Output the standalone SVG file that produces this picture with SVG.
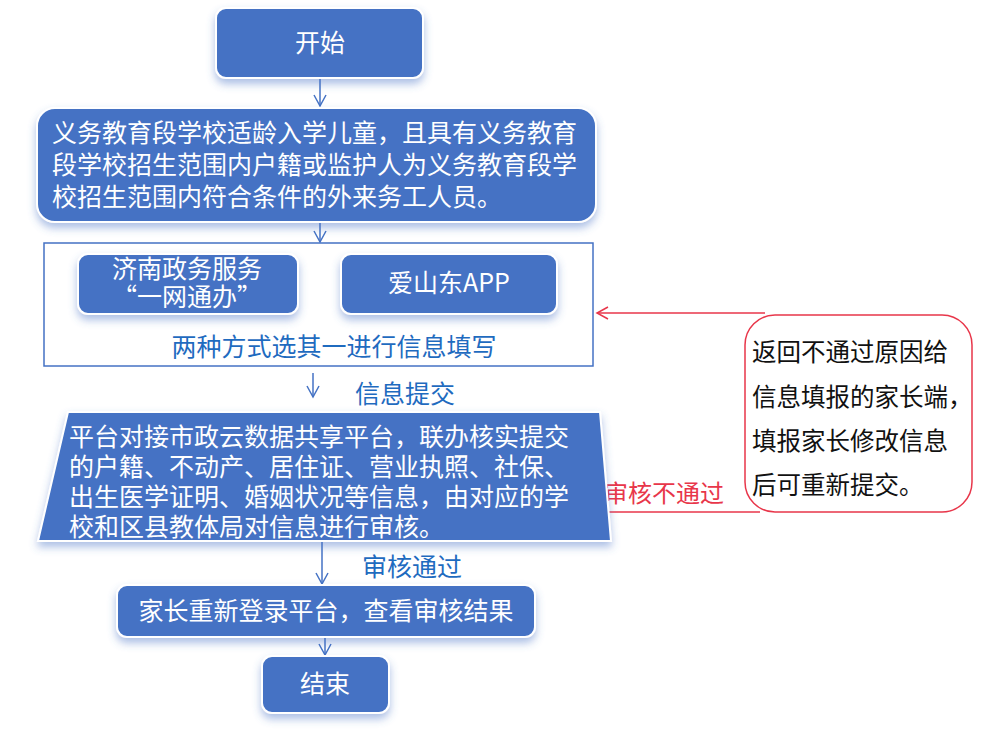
<svg xmlns="http://www.w3.org/2000/svg" width="1000" height="745" viewBox="0 0 1000 745">
<style>
text{font-family:"Noto Sans CJK SC","Microsoft YaHei",sans-serif;}
.node{fill:#4472C4;stroke:#ffffff;stroke-width:2;filter:url(#sh);}
.wt{fill:#ffffff;font-size:25px;}
.bt{fill:#1F6BBF;font-size:25px;}
.rt{fill:#E8364A;font-size:24px;}
.kt{fill:#111111;font-size:24.5px;}
.conn{stroke:#4472C4;stroke-width:1.5;fill:none;}
.red{stroke:#E8364A;stroke-width:1.5;fill:none;}
</style>
<defs>
<filter id="sh" x="-10%" y="-20%" width="120%" height="150%">
<feDropShadow dx="0" dy="5" stdDeviation="4" flood-color="#4472C4" flood-opacity="0.45"/>
</filter>
<marker id="ab" markerWidth="14" markerHeight="14" refX="12" refY="7" orient="auto" markerUnits="userSpaceOnUse">
<path d="M1,1 L12,7 L1,13" fill="none" stroke="#4472C4" stroke-width="1.5"/>
</marker>
<marker id="ar" markerWidth="14" markerHeight="14" refX="12" refY="7" orient="auto" markerUnits="userSpaceOnUse">
<path d="M1,1 L12,7 L1,13" fill="none" stroke="#E8364A" stroke-width="1.5"/>
</marker>
</defs>
<rect width="1000" height="745" fill="#ffffff"/>

<g id="connectors">
<line class="conn" x1="320" y1="79" x2="320" y2="106" marker-end="url(#ab)"/>
<line class="conn" x1="320" y1="223" x2="320" y2="242" marker-end="url(#ab)"/>
<line class="conn" x1="313" y1="373" x2="313" y2="397" marker-end="url(#ab)"/>
<line class="conn" x1="322" y1="542" x2="322" y2="584" marker-end="url(#ab)"/>
<line class="conn" x1="325" y1="638" x2="325" y2="655" marker-end="url(#ab)"/>
<path class="red" d="M600,512 L760,512"/>
<path class="red" d="M765,313 L597,313" marker-end="url(#ar)"/>
<text class="bt" x="355" y="403">信息提交</text>
<text class="bt" x="362" y="576">审核通过</text>
<text class="rt" x="604" y="502">审核不通过</text>
</g>

<g id="start">
<rect class="node" x="216" y="8" width="207" height="70" rx="10"/>
<text class="wt" x="320" y="52" text-anchor="middle" font-size="24">开始</text>
</g>

<g id="eligibility">
<rect class="node" x="37" y="108" width="559" height="114" rx="18"/>
<text class="wt" x="52" y="142">义务教育段学校适龄入学儿童，且具有义务教育</text>
<text class="wt" x="52" y="174">段学校招生范围内户籍或监护人为义务教育段学</text>
<text class="wt" x="52" y="206">校招生范围内符合条件的外来务工人员。</text>
</g>

<g id="channels">
<rect x="44" y="243" width="549" height="123" fill="#ffffff" stroke="#4472C4" stroke-width="1.5"/>
<text class="bt" x="334" y="356" text-anchor="middle">两种方式选其一进行信息填写</text>
</g>

<g id="jinan">
<rect class="node" x="78" y="254" width="220" height="60" rx="10"/>
<text class="wt" x="187" y="278" text-anchor="middle" font-size="23">济南政务服务</text>
<text class="wt" x="187" y="306" text-anchor="middle" font-size="23">“一网通办”</text>
</g>

<g id="aishandong">
<rect class="node" x="341" y="254" width="216" height="60" rx="10"/>
<text class="wt" x="449" y="292" text-anchor="middle" font-size="23">爱山东APP</text>
</g>

<g id="review">
<polygon class="node" points="68,412 600,412 611,541 38,541"/>
<text class="wt" x="69" y="446">平台对接市政云数据共享平台，联办核实提交</text>
<text class="wt" x="69" y="476">的户籍、不动产、居住证、营业执照、社保、</text>
<text class="wt" x="69" y="506">出生医学证明、婚姻状况等信息，由对应的学</text>
<text class="wt" x="69" y="536">校和区县教体局对信息进行审核。</text>
</g>

<g id="feedback">
<rect x="745" y="315" width="227" height="197" rx="30" fill="#ffffff" stroke="#E8364A" stroke-width="1.5"/>
<text class="kt" x="752" y="361">返回不通过原因给</text>
<text class="kt" x="752" y="406">信息填报的家长端，</text>
<text class="kt" x="752" y="450">填报家长修改信息</text>
<text class="kt" x="752" y="494">后可重新提交。</text>
</g>

<g id="result">
<rect class="node" x="117" y="585" width="418" height="52" rx="10"/>
<text class="wt" x="326" y="620" text-anchor="middle">家长重新登录平台，查看审核结果</text>
</g>

<g id="end">
<rect class="node" x="262" y="656" width="127" height="57" rx="10"/>
<text class="wt" x="325" y="693" text-anchor="middle" font-size="24">结束</text>
</g>
</svg>
